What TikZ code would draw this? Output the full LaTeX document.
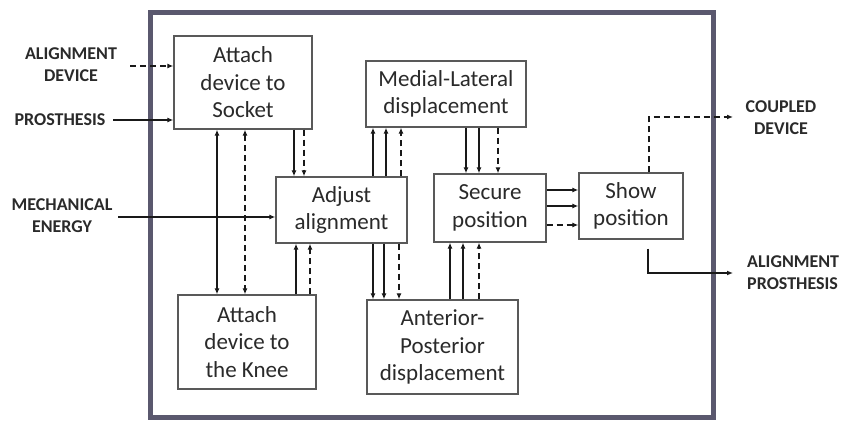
\documentclass[tikz,border=0pt]{standalone}
\usepackage{fontspec}
\setmainfont{Carlito}
\usetikzlibrary{arrows.meta}
\definecolor{framec}{HTML}{5A586E}
\definecolor{txt}{HTML}{2A2A2A}
\begin{document}
\begin{tikzpicture}[x=1pt,y=-1pt,
  >={Latex[length=6pt,width=5pt]},
  box/.style={draw=black!65, line width=1.3pt, align=center, inner sep=0pt,
    font=\fontsize{23}{27.5}\selectfont, text=txt},
  lab/.style={font=\bfseries\fontsize{18}{22}\selectfont, align=center, text=txt, inner sep=0pt},
  ln/.style={line width=1.6pt, draw=black!90},
  thk/.style={line width=2.8pt, draw=black!90},
  dsh/.style={line width=1.6pt, draw=black!90, dash pattern=on 6pt off 4pt}]
\useasboundingbox (0,0) rectangle (841,422);
\fill[white] (0,0) rectangle (841,422);
% frame
\draw[framec, line width=5pt] (150.5,12.5) rectangle (713.5,417.5);

% boxes
\node[box, minimum width=138pt, minimum height=93pt] (socket) at (243,82.5) {Attach\\device to\\Socket};
\node[box, minimum width=160pt, minimum height=66pt] (medial) at (446,94) {Medial-Lateral\\displacement};
\node[box, minimum width=131pt, minimum height=66pt, fill=white] (adjust) at (341.5,210) {Adjust\\alignment};
\node[box, minimum width=112pt, minimum height=68pt] (secure) at (490,208) {Secure\\position};
\node[box, minimum width=104pt, minimum height=66pt] (show) at (631,206) {Show\\position};
\node[box, minimum width=138pt, minimum height=94pt] (knee) at (247,342) {Attach\\device to\\the Knee};
\node[box, minimum width=151pt, minimum height=94pt] (ap) at (442.5,347) {Anterior-\\Posterior\\displacement};

% outside labels
\node[lab] (aldev) at (71,65) {ALIGNMENT\\DEVICE};
\node[lab] (pros) at (60,120) {PROSTHESIS};
\node[lab] (mech) at (62,216) {MECHANICAL\\ENERGY};
\node[lab] (coup) at (781,118) {COUPLED\\DEVICE};
\node[lab, align=left, anchor=west] (alpros) at (747,273) {ALIGNMENT\\PROSTHESIS};

\coordinate (aldevs) at (130,66);
\coordinate (pross) at (113,120);
\coordinate (mechs) at (118,217);
\coordinate (coupe) at (733,117);
\coordinate (alprose) at (733,273);

% inputs
\draw[dsh,->] (aldevs) -- (socket.west |- aldevs);
\draw[ln,->] (pross) -- (socket.west |- pross);
\draw[ln,->] (mechs) -- (adjust.west |- mechs);

% socket <-> knee
\draw[ln,<->] (socket.south -| 217,0) -- (knee.north -| 217,0);
\draw[dsh,<->] (socket.south -| 245,0) -- (knee.north -| 245,0);

% socket -> adjust
\draw[ln,->] (socket.south -| 294,0) -- (adjust.north -| 294,0);
\draw[dsh,->] (socket.south -| 304,0) -- (adjust.north -| 304,0);

% knee -> adjust
\draw[ln,->] (knee.north -| 296,0) -- (adjust.south -| 296,0);
\draw[dsh,->] (knee.north -| 310,0) -- (adjust.south -| 310,0);

% adjust -> medial
\draw[thk,->] (adjust.north -| 373,0) -- (medial.south -| 373,0);
\draw[ln,->] (adjust.north -| 386,0) -- (medial.south -| 386,0);
\draw[dsh,->] (adjust.north -| 401,0) -- (medial.south -| 401,0);

% adjust -> anterior-posterior
\draw[thk,->] (adjust.south -| 373,0) -- (ap.north -| 373,0);
\draw[ln,->] (adjust.south -| 384,0) -- (ap.north -| 384,0);
\draw[dsh,->] (adjust.south -| 399,0) -- (ap.north -| 399,0);

% medial -> secure
\draw[ln,->] (medial.south -| 466,0) -- (secure.north -| 466,0);
\draw[thk,->] (medial.south -| 479,0) -- (secure.north -| 479,0);
\draw[dsh,->] (medial.south -| 498,0) -- (secure.north -| 498,0);

% anterior-posterior -> secure
\draw[thk,->] (ap.north -| 450,0) -- (secure.south -| 450,0);
\draw[ln,->] (ap.north -| 463,0) -- (secure.south -| 463,0);
\draw[dsh,->] (ap.north -| 479,0) -- (secure.south -| 479,0);

% secure -> show
\draw[thk,->] (secure.east |- 0,190) -- (show.west |- 0,190);
\draw[thk,->] (secure.east |- 0,206) -- (show.west |- 0,206);
\draw[dsh,->] (secure.east |- 0,225) -- (show.west |- 0,225);

% outputs
\draw[dsh,->] (show.north -| 649,0) |- (coupe);
\draw[ln,->, shorten <=9pt] (show.south -| 648,0) |- (alprose);
\end{tikzpicture}
\end{document}
